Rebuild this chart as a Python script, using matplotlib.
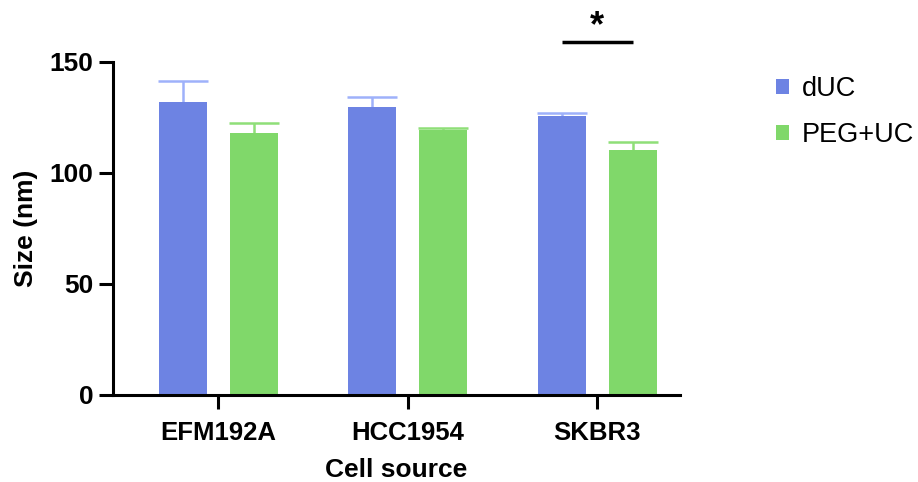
import numpy as np
import matplotlib.pyplot as plt

plt.rcParams['font.family'] = ['Liberation Sans', 'DejaVu Sans']

# Data
cells = ['EFM192A', 'HCC1954', 'SKBR3']
duc_mean = [131.9, 129.6, 125.5]
duc_err = [9.5, 4.5, 1.5]
peg_mean = [117.8, 119.2, 110.2]
peg_err = [4.5, 1.2, 3.6]

c_duc = '#6d83e3'; c_duc_err = '#9eb1fa'
c_peg = '#80d86a'; c_peg_err = '#8fdf78'

fig = plt.figure(figsize=(9.18, 4.82), dpi=100)
ax = fig.add_axes([0.1228, 0.1805, 0.741 - 0.1228, 0.8714 - 0.1805])

x = np.arange(len(cells))
w = 0.253; off = 0.187
ax.bar(x - off, duc_mean, w, color=c_duc, label='dUC', zorder=2)
ax.bar(x + off, peg_mean, w, color=c_peg, label='PEG+UC', zorder=2)
# upper error bars only (hide the lower cap)
for xs, m, e, c in [(x - off, duc_mean, duc_err, c_duc_err),
                    (x + off, peg_mean, peg_err, c_peg_err)]:
    eb = ax.errorbar(xs, m, yerr=[np.zeros(3), e], fmt='none', ecolor=c,
                     elinewidth=1.8, capsize=18, capthick=1.8, zorder=1)
    eb[1][0].set_visible(False)

ax.set_xlim(-0.556, 2.438)
ax.set_ylim(0, 150)
ax.set_yticks([0, 50, 100, 150])
ax.set_xticks(x)
ax.set_xticklabels(cells)
for s in ['top', 'right']:
    ax.spines[s].set_visible(False)
for s in ['left', 'bottom']:
    ax.spines[s].set_linewidth(2.2)
ax.tick_params(width=2.2, length=10, pad=4)
ax.tick_params(axis='y', labelsize=19)
ax.tick_params(axis='x', labelsize=18.5, pad=9)
for lab in ax.get_xticklabels() + ax.get_yticklabels():
    lab.set_fontweight('bold')
ax.set_xlabel('Cell source', fontsize=19, fontweight='bold', labelpad=9)
ax.set_ylabel('Size (nm)', fontsize=19, fontweight='bold', labelpad=8)

# significance marker
ax.plot([2 - off, 2 + off], [159.2, 159.2], color='black', lw=2.5,
        clip_on=False, solid_capstyle='butt')
ax.text(2, 157.8, '*', ha='center', va='bottom', fontsize=26,
        fontweight='bold', clip_on=False)

ax.legend(loc='upper left', bbox_to_anchor=(1.169, 0.958), frameon=False,
          borderaxespad=0, borderpad=0,
          fontsize=19.5, handlelength=0.48, handleheight=0.48,
          handletextpad=0.48, labelspacing=0.74)

fig.savefig('out.png', dpi=100)
